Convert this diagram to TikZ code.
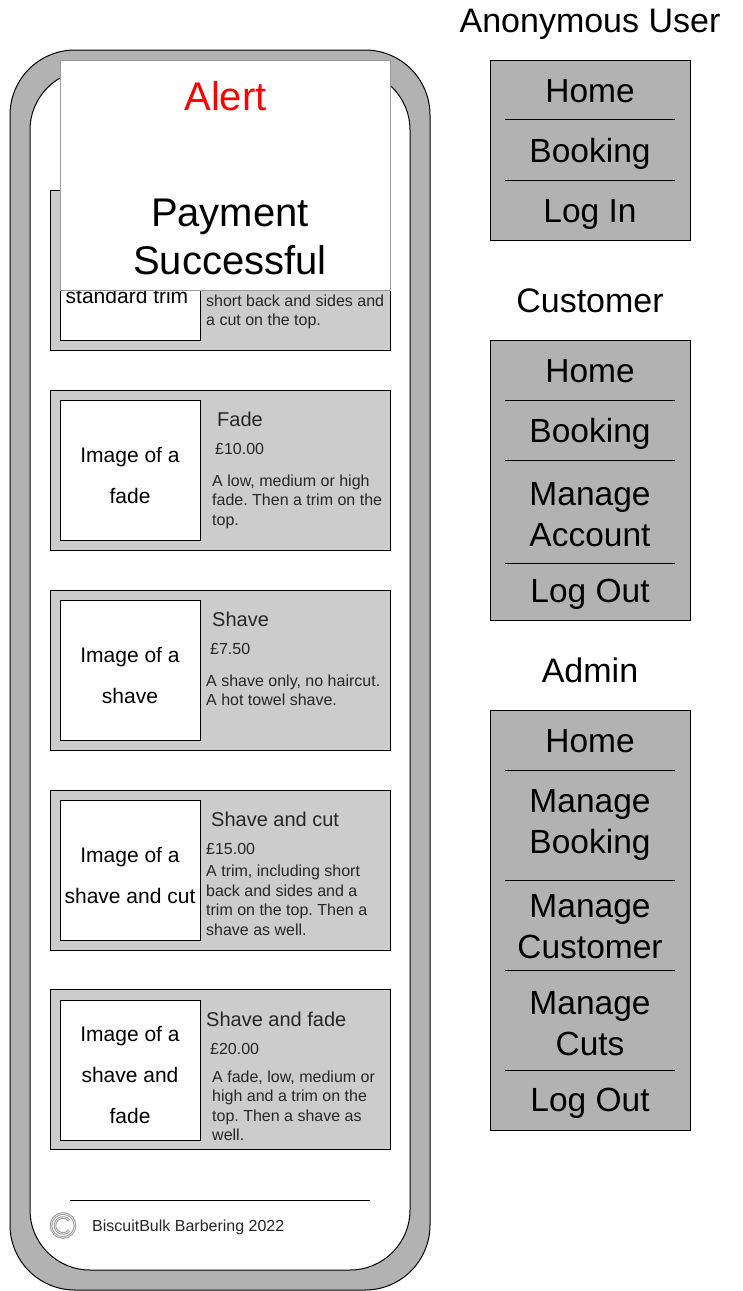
\documentclass[tikz,border=0pt]{standalone}
\usepackage{fontspec}
\setmainfont{Liberation Sans}
\frenchspacing
\begin{document}
\begin{tikzpicture}[x=1pt, y=-1pt]
\tikzset{
  phonebox/.style={draw, fill=black!30, line width=1pt, rounded corners=65pt},
  screenbox/.style={draw, fill=white, line width=1pt, rounded corners=60pt},
  cardbox/.style={draw, fill=black!20, line width=1pt},
  imagebox/.style={draw, fill=white, line width=1pt},
  menubox/.style={draw, fill=black!30, line width=1pt},
  alertbox/.style={draw=black!40, fill=white, line width=1pt},
  rule/.style={line width=0.8pt},
  copymark/.style={draw=black!40, line width=0.9pt, double=black!12, double distance=0.8pt},
  imagetext/.style={inner sep=0pt, align=center, font=\fontsize{21}{41}\selectfont},
  cardtitle/.style={inner sep=0pt, anchor=base west, text=black!85, font=\fontsize{20}{24}\selectfont},
  cardprice/.style={inner sep=0pt, anchor=base west, text=black!85, font=\fontsize{16}{20}\selectfont},
  carddesc/.style={inner sep=0pt, anchor=north west, align=left, text=black!85, font=\fontsize{16}{19.5}\selectfont},
  menutext/.style={inner sep=0pt, align=center, font=\fontsize{33.5}{41}\selectfont},
  headtext/.style={inner sep=0pt, align=center, font=\fontsize{34}{48}\selectfont},
  alerttext/.style={inner sep=0pt, align=center, font=\fontsize{40}{48}\selectfont}
}
\useasboundingbox (0,0) rectangle (742,1291);
% phone
\draw[phonebox] (10,50) rectangle (430,1290);
\draw[screenbox] (30,70) rectangle (410,1270);
% first card
\node[cardbox, minimum width=340pt, minimum height=160pt, inner sep=0pt] (card1) at (220,270) {};
\node[imagebox, minimum width=140pt, minimum height=140pt, inner sep=0pt] (img1) at (130,270) {};
\node[imagetext] (img1txt) at (127,296) {standard trim};
\node[carddesc] (desc1) at (206,294.5) {short back and sides and\\a cut on the top.};
% second card
\node[cardbox, minimum width=340pt, minimum height=160pt, inner sep=0pt] (card2) at (220,470) {};
\node[imagebox, minimum width=140pt, minimum height=140pt, inner sep=0pt] (img2) at (130,470) {};
\node[imagetext] (img2txt) at (130,475.5) {Image of a\\fade};
\node[cardtitle] (title2) at (217,426.5) {Fade};
\node[cardprice] (price2) at (215,454.5) {£10.00};
\node[carddesc] (desc2) at (212,474.5) {A low, medium or high\\fade. Then a trim on the\\top.};
% third card
\node[cardbox, minimum width=340pt, minimum height=160pt, inner sep=0pt] (card3) at (220,670) {};
\node[imagebox, minimum width=140pt, minimum height=140pt, inner sep=0pt] (img3) at (130,670) {};
\node[imagetext] (img3txt) at (130,675.5) {Image of a\\shave};
\node[cardtitle] (title3) at (212,626.5) {Shave};
\node[cardprice] (price3) at (210,654.5) {£7.50};
\node[carddesc] (desc3) at (206,674.5) {A shave only, no haircut.\\A hot towel shave.};
% fourth card
\node[cardbox, minimum width=340pt, minimum height=160pt, inner sep=0pt] (card4) at (220,870) {};
\node[imagebox, minimum width=140pt, minimum height=140pt, inner sep=0pt] (img4) at (130,870) {};
\node[imagetext] (img4txt) at (130,875.5) {Image of a\\shave and cut};
\node[cardtitle] (title4) at (211,826.5) {Shave and cut};
\node[cardprice] (price4) at (206,854.5) {£15.00};
\node[carddesc] (desc4) at (206,865) {A trim, including short\\back and sides and a\\trim on the top. Then a\\shave as well.};
% fifth card
\node[cardbox, minimum width=340pt, minimum height=160pt, inner sep=0pt] (card5) at (220,1069.5) {};
\node[imagebox, minimum width=140pt, minimum height=140pt, inner sep=0pt] (img5) at (130,1070) {};
\node[imagetext] (img5txt) at (130,1075) {Image of a\\shave and\\fade};
\node[cardtitle] (title5) at (206,1026.5) {Shave and fade};
\node[cardprice] (price5) at (210,1054.5) {£20.00};
\node[carddesc] (desc5) at (212,1070.5) {A fade, low, medium or\\high and a trim on the\\top. Then a shave as\\well.};
% alert on top
\node[alertbox, minimum width=330pt, minimum height=230pt, inner sep=0pt] (alertbg) at (225,175) {};
\node[alerttext, text=red] (alerttitle) at (225.5,96) {Alert};
\node[alerttext] (alertmsg) at (230,237) {Payment\\Successful};
% footer
\coordinate (footl) at (70,1200);
\coordinate (footr) at (370,1200);
\draw[rule] (footl) -- (footr);
\node[copymark, circle, minimum size=24pt, inner sep=0pt] (copy) at (63,1225.5) {};
\coordinate (copystart) at (69.1,1220.4);
\draw[copymark] (copystart) arc (40:320:8pt);
\node[cardprice] (foottxt) at (92,1231) {BiscuitBulk Barbering 2022};
% anonymous menu
\node[headtext] (headanon) at (590,24) {Anonymous User};
\node[menubox, minimum width=200pt, minimum height=180pt, inner sep=0pt] (menuanon) at (590,150) {};
\node[menutext] (a1) at (590,91) {Home};
\node[menutext] (a2) at (590,154) {Booking};
\node[menutext] (a3) at (590,214) {Log In};
\coordinate (a12l) at (505,119.5);
\coordinate (a12r) at (675,119.5);
\coordinate (a23l) at (505,180);
\coordinate (a23r) at (675,180);
\draw[rule] (a12l) -- (a12r);
\draw[rule] (a23l) -- (a23r);
% customer menu
\node[headtext] (headcust) at (590,301) {Customer};
\node[menubox, minimum width=200pt, minimum height=280pt, inner sep=0pt] (menucust) at (590,480) {};
\node[menutext] (c1) at (590,371) {Home};
\node[menutext] (c2) at (590,434) {Booking};
\node[menutext] (c3) at (590,515) {Manage\\Account};
\node[menutext] (c4) at (590,594) {Log Out};
\coordinate (c12l) at (505,400);
\coordinate (c12r) at (675,400);
\coordinate (c23l) at (505,460);
\coordinate (c23r) at (675,460);
\coordinate (c34l) at (505,563);
\coordinate (c34r) at (675,563);
\draw[rule] (c12l) -- (c12r);
\draw[rule] (c23l) -- (c23r);
\draw[rule] (c34l) -- (c34r);
% admin menu
\node[headtext] (headadmin) at (590,670) {Admin};
\node[menubox, minimum width=200pt, minimum height=420pt, inner sep=0pt] (menuadmin) at (590,920) {};
\node[menutext] (d1) at (590,741) {Home};
\node[menutext] (d2) at (590,825) {Manage\\Booking};
\node[menutext] (d3) at (590,927) {Manage\\Customer};
\node[menutext] (d4) at (590,1024) {Manage\\Cuts};
\node[menutext] (d5) at (590,1103) {Log Out};
\coordinate (d12l) at (505,770);
\coordinate (d12r) at (675,770);
\coordinate (d23l) at (505,880);
\coordinate (d23r) at (675,880);
\coordinate (d34l) at (505,970);
\coordinate (d34r) at (675,970);
\coordinate (d45l) at (505,1070);
\coordinate (d45r) at (675,1070);
\draw[rule] (d12l) -- (d12r);
\draw[rule] (d23l) -- (d23r);
\draw[rule] (d34l) -- (d34r);
\draw[rule] (d45l) -- (d45r);
\end{tikzpicture}
\end{document}
